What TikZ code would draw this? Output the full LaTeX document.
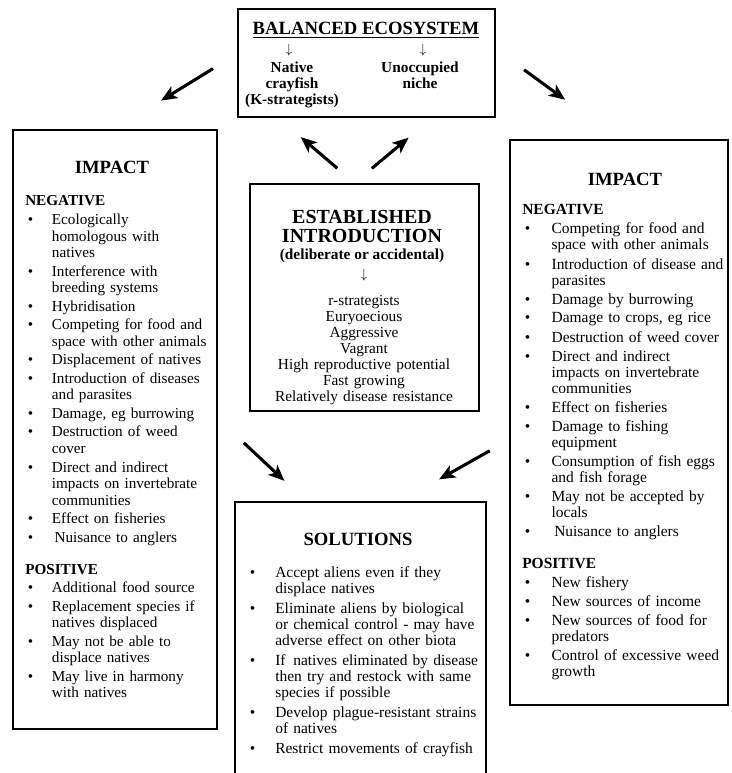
\documentclass[tikz,border=0pt]{standalone}
\usepackage{fontspec}
\setmainfont{Liberation Serif}
\usetikzlibrary{arrows.meta,positioning,calc,fit}

\newlength{\bulind}
\newcommand{\bulstart}{\hangindent=\bulind\hangafter=1\makebox[\bulind][l]{\hspace{2pt}\textbullet}}
\newcommand{\bul}{\par\bulstart}
\newcommand{\nl}{\newline}

\begin{document}
\begin{tikzpicture}[
  x=0.75pt, y=-0.75pt,
  box/.style={draw, line width=1.6pt, inner sep=0pt},
  head/.style={font=\bfseries\fontsize{14}{16}\selectfont, inner sep=0pt, anchor=base},
  boldtxt/.style={font=\bfseries\fontsize{11.5}{12}\selectfont, inner sep=0pt, anchor=base, align=center},
  lst/.style={inner sep=0pt, anchor=base west, execute at begin node=\raggedright},
  glyph/.style={inner sep=0pt, font=\fontsize{10}{10}\selectfont},
  bigarr/.style={-{Stealth[length=12pt,width=10pt,inset=3pt]}, line width=2.3pt}
]
\clip (0,0) rectangle (731,773);

% --- Boxes
\node[box, fit={(238,9) (495,117)}]   (balanced)  {};
\node[box, fit={(13,130) (217,729)}]  (impactL)   {};
\node[box, fit={(510,140) (728,705)}] (impactR)   {};
\node[box, fit={(250,184) (479,411)}] (intro)     {};
\node[box, fit={(235,502) (486,800)}] (solutions) {};

% --- Balanced ecosystem
\node[head] (balancedT) at (366,35) {\underline{BALANCED ECOSYSTEM}};
\node[glyph] (nativeA) at (289,50) {$\downarrow$};
\node[glyph] (nicheA)  at (423,50) {$\downarrow$};
\node[boldtxt, text width=110pt] (native) at (292,73) {Native\\crayfish\\(K-strategists)};
\node[boldtxt, text width=90pt]  (niche)  at (420,73) {Unoccupied\\niche};

% --- Established introduction
\node[head, font=\bfseries\fontsize{15}{14}\selectfont, align=center, text width=170pt] (introT) at (362,224) {ESTABLISHED\\INTRODUCTION};
\node[boldtxt] (introS) at (362,260) {(deliberate or accidental)};
\node[glyph] (introA) at (364,275) {$\downarrow$};
\node[inner sep=0pt, anchor=base, align=center, text width=165pt, font=\fontsize{11.5}{12}\selectfont] (introL) at (364,305)
  {r-strategists\\Euryoecious\\Aggressive\\Vagrant\\High reproductive potential\\Fast growing\\Relatively disease resistance};

% --- Impact (left)
\node[head] (impactLT) at (112,174) {IMPACT};
\node[lst, text width=180pt, font=\fontsize{11.4}{12.4}\selectfont] (impactLL) at (25,206) {%
  \setlength{\bulind}{20pt}\setlength{\parskip}{1.5pt}%
  \textbf{NEGATIVE}
  \bul Ecologically\nl homologous with\nl natives
  \bul Interference with\nl breeding systems
  \bul Hybridisation
  \bul Competing for food and\nl space with other animals
  \bul Displacement of natives
  \bul Introduction of diseases\nl and parasites
  \bul Damage, eg burrowing
  \bul Destruction of weed\nl cover
  \bul Direct and indirect\nl impacts on invertebrate\nl communities
  \bul Effect on fisheries
  \bul \hspace{2pt}Nuisance to anglers
  \par\vspace{10pt}\textbf{POSITIVE}
  \bul Additional food source
  \bul Replacement species if\nl natives displaced
  \bul May not be able to\nl displace natives
  \bul May live in harmony\nl with natives\par
};

% --- Impact (right)
\node[head] (impactRT) at (625,186) {IMPACT};
\node[lst, text width=200pt, font=\fontsize{11.6}{12}\selectfont] (impactRL) at (522,215) {%
  \setlength{\bulind}{22pt}\setlength{\parskip}{2.25pt}%
  \textbf{NEGATIVE}
  \bul Competing for food and\nl space with other animals
  \bul Introduction of disease and\nl parasites
  \bul Damage by burrowing
  \bul Damage to crops, eg rice
  \bul Destruction of weed cover
  \bul Direct and indirect\nl impacts on invertebrate\nl communities
  \bul Effect on fisheries
  \bul Damage to fishing\nl equipment
  \bul Consumption of fish eggs\nl and fish forage
  \bul May not be accepted by\nl locals
  \bul \hspace{2pt}Nuisance to anglers
  \par\vspace{9.75pt}\textbf{POSITIVE}
  \bul New fishery
  \bul New sources of income
  \bul New sources of food for\nl predators
  \bul Control of excessive weed\nl growth\par
};

% --- Solutions
\node[head] (solutionsT) at (358,545) {SOLUTIONS};
\node[lst, text width=200pt, font=\fontsize{11.6}{12}\selectfont] (solutionsL) at (247,577) {%
  \setlength{\bulind}{21pt}\setlength{\parskip}{3pt}%
  \bulstart Accept aliens even if they\nl displace natives
  \bul Eliminate aliens by biological\nl or chemical control - may have\nl adverse effect on other biota
  \bul If\, natives eliminated by disease\nl then try and restock with same\nl species if possible
  \bul Develop plague-resistant strains\nl of natives
  \bul Restrict movements of crayfish\par
};

% --- Arrows
\draw[bigarr, shorten <=21pt, shorten >=40.5pt] (balanced.176) -- (impactL.north);
\draw[bigarr, shorten <=26pt, shorten >=50pt]   (balanced.6)   -- (impactR.north);
\draw[bigarr, shorten <=17pt, shorten >=22pt]   (intro.95)     -- (balanced.212);
\draw[bigarr, shorten <=17pt, shorten >=23pt]   (intro.95)     -- (balanced.320);
\draw[bigarr, shorten <=26.5pt, shorten >=22pt] (impactL.6)    -- (solutions.110);
\draw[bigarr, shorten <=16.5pt, shorten >=33pt] (impactR.189)  -- (solutions.75.5);

\end{tikzpicture}
\end{document}
